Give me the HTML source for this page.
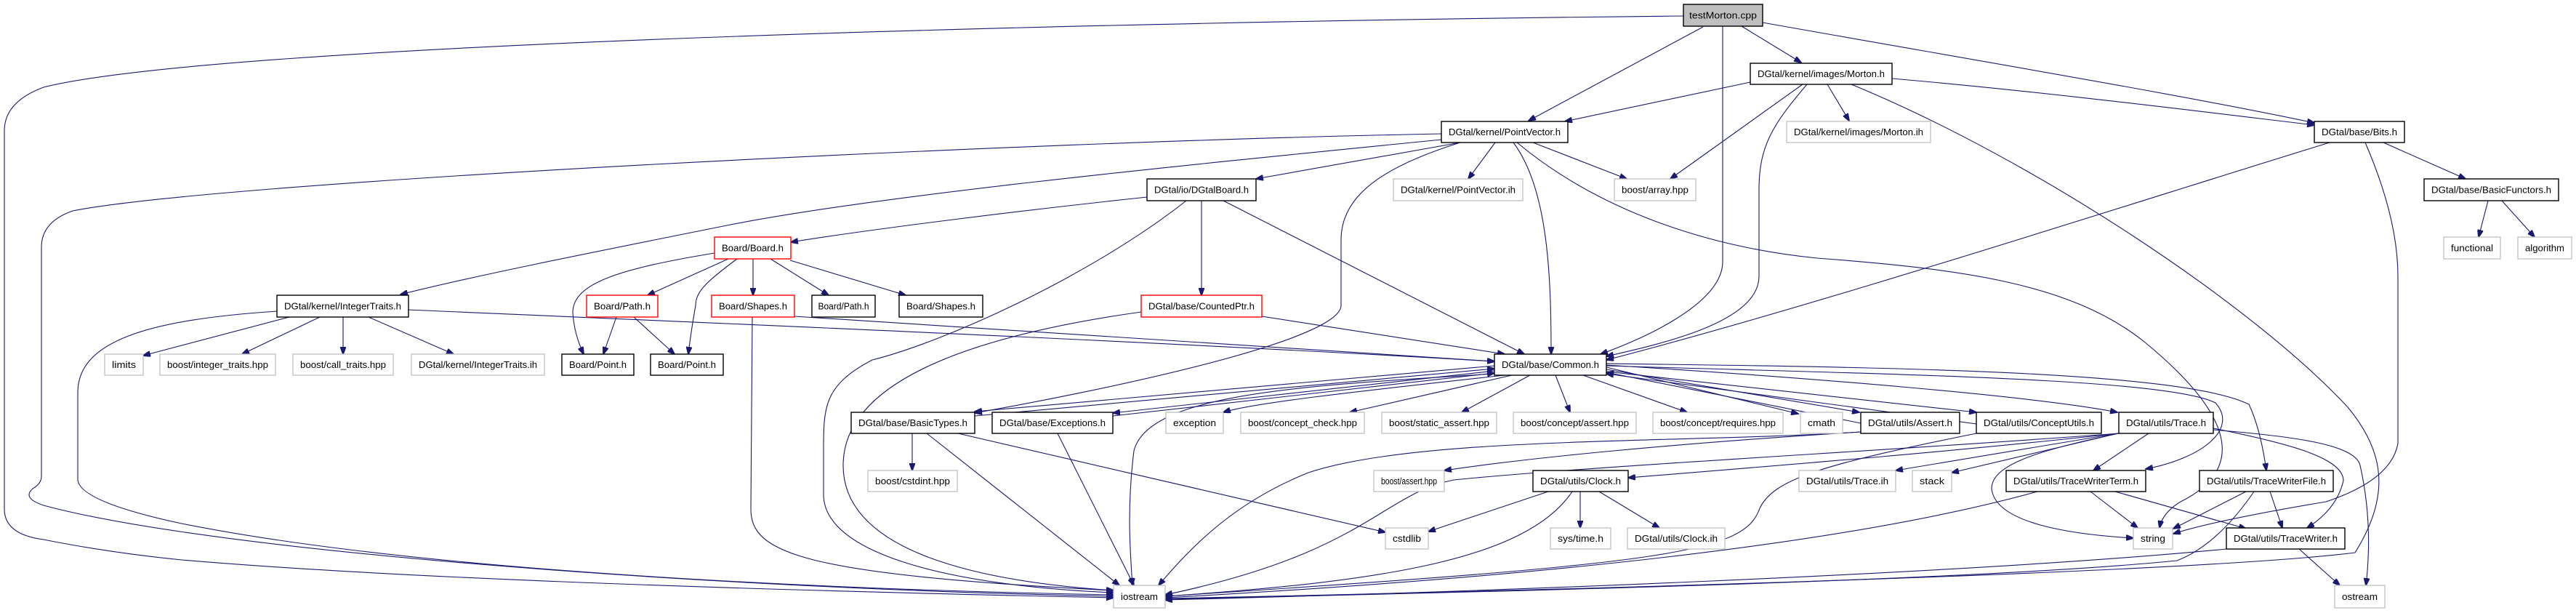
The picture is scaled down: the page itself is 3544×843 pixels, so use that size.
<!DOCTYPE html>
<html><head><meta charset="utf-8"><style>
html,body{margin:0;padding:0;background:#fff;}
svg{display:block}
text{font-family:"Liberation Sans",sans-serif;font-size:12.5px;fill:#000;text-anchor:middle}
.g{fill:#fff;stroke:#bfbfbf;stroke-width:1.3}
.b{fill:#fff;stroke:#000;stroke-width:1.4}
.r{fill:#fff;stroke:#ff0000;stroke-width:1.4}
path,line{fill:none;stroke:#191970;stroke-width:1.1}
</style></head><body>
<svg width="3544" height="843" viewBox="0 0 3544 843" xmlns="http://www.w3.org/2000/svg">
<defs><marker id="a" markerWidth="11" markerHeight="8" refX="10" refY="4" orient="auto" markerUnits="userSpaceOnUse"><path d="M0,0 L11,4 L0,8 z" style="fill:#191970;stroke:#191970"/></marker></defs>
<g marker-end="url(#a)">
<path d="M2316,22 C1500,30 300,60 60,120 Q6,140 6,180 L6,700 Q6,735 60,742 Q150,760 250,770 C600,800 1200,815 1532,822"/>
<path d="M1983,184 C1400,195 300,250 100,290 Q57,305 57,340 L57,655 Q57,665 45,672 Q30,685 60,695 C300,760 1000,810 1532,820"/>
<path d="M381,428 C200,440 107,470 107,540 L107,660 Q110,690 250,720 C600,790 1200,812 1532,818"/>
<path d="M2343,37 L2103,166"/>
<path d="M2370,36 L2370,360 C2370,420 2250,470 2202,487"/>
<path d="M2396,36 L2478,86"/>
<path d="M2425,31 C2700,80 3000,130 3184,169"/>
<path d="M2408,113 L2153,167"/>
<path d="M2514,116 L2544,166"/>
<path d="M2480,116 L2298,246"/>
<path d="M2486,116 C2440,170 2420,200 2420,260 L2420,380 C2420,440 2300,470 2210,490"/>
<path d="M2547,116 C2800,220 3100,420 3230,560 C3280,620 3290,680 3240,760 C3000,790 2000,815 1603,823"/>
<path d="M2603,108 C2800,125 3000,150 3184,172"/>
<path d="M1983,192 C1600,230 1200,270 1000,310 C800,350 650,380 551,405"/>
<path d="M2009,196 L1728,246"/>
<path d="M2009,196 C1900,230 1845,270 1845,330 L1845,420 C1845,470 1500,540 1341,568"/>
<path d="M2057,196 L2020,246"/>
<path d="M2109,196 L2238,246"/>
<path d="M2082,196 C2130,260 2134,380 2134,487"/>
<path d="M2087,196 C2200,290 2350,340 2500,355 C2700,370 2850,390 2950,470 C3060,560 3100,640 3000,690 Q2975,705 2971,726"/>
<path d="M1578,271 C1400,290 1200,315 1088,333"/>
<path d="M1632,276 C1500,380 1300,470 1200,495 C1133,530 1133,560 1133,620 L1133,680 C1133,760 1300,805 1532,815"/>
<path d="M1653,276 L1653,406"/>
<path d="M1683,276 L2097,487"/>
<path d="M983,348 C850,370 788,390 788,430 Q790,460 803,487"/>
<path d="M1002,356 L891,406"/>
<path d="M1014,356 C975,385 957,400 957,420 Q950,460 947,487"/>
<path d="M1036,356 L1036,406"/>
<path d="M1060,356 L1140,406"/>
<path d="M1087,358 L1246,406"/>
<path d="M848,436 L830,487"/>
<path d="M872,436 L928,487"/>
<path d="M1035,436 L1033,700 C1033,760 1100,790 1532,812"/>
<path d="M1093,435 C1500,460 1800,480 2056,497"/>
<path d="M398,436 L197,489"/>
<path d="M440,436 L333,487"/>
<path d="M472,436 L472,487"/>
<path d="M507,436 L624,487"/>
<path d="M562,426 C1000,445 1600,470 2056,497"/>
<path d="M1570,429 C1350,460 1160,520 1160,640 C1160,760 1350,800 1532,812"/>
<path d="M1736,435 L2070,487"/>
<path d="M2056,503 L1341,566"/>
<path d="M1341,572 L2056,507"/>
<path d="M2056,510 L1531,568"/>
<path d="M1531,572 L2056,513"/>
<path d="M2070,516 C1850,540 1720,555 1683,567"/>
<path d="M2080,516 L1857,567"/>
<path d="M2105,516 L2011,567"/>
<path d="M2140,516 L2160,567"/>
<path d="M2178,516 L2321,567"/>
<path d="M2210,505 L2474,569"/>
<path d="M2210,508 L2558,567"/>
<path d="M2560,582 L2210,512"/>
<path d="M2210,511 L2719,567"/>
<path d="M2719,583 L2210,514"/>
<path d="M2210,502 C2500,520 2800,545 2913,567"/>
<path d="M2210,503 C2600,515 2980,520 3048,554 C3080,590 3030,630 2952,645"/>
<path d="M2210,500 C2600,505 3000,510 3094,556 Q3110,590 3118,647"/>
<path d="M2056,514 C1800,530 1580,540 1560,620 C1550,700 1555,760 1558,805"/>
<path d="M1255,596 L1255,647"/>
<path d="M1275,596 L1540,805"/>
<path d="M1318,596 L1906,732"/>
<path d="M1455,596 L1560,805"/>
<path d="M2560,594 C2300,610 2100,630 1987,647"/>
<path d="M2560,594 C2300,610 1950,600 1800,650 C1700,690 1640,750 1594,805"/>
<path d="M2719,596 C2500,640 2440,660 2421,699 C2400,760 2300,775 1603,820"/>
<path d="M2914,596 C2700,620 2450,640 2240,657"/>
<path d="M2914,596 L2608,647"/>
<path d="M2914,596 L2685,650"/>
<path d="M2956,596 L2880,647"/>
<path d="M2915,596 C2800,620 2740,640 2740,672 C2745,720 2850,735 2935,740"/>
<path d="M3045,589 C3150,610 3224,630 3224,661 Q3215,700 3174,726"/>
<path d="M3045,591 C3150,600 3240,610 3247,640 Q3265,720 3255,805"/>
<path d="M2915,596 C2600,620 2200,640 2000,660 C1900,680 1880,760 1603,818"/>
<path d="M2130,676 L1965,731"/>
<path d="M2174,676 L2174,726"/>
<path d="M2200,676 L2283,726"/>
<path d="M2163,676 C2100,770 1900,800 1603,820"/>
<path d="M2876,676 L2941,726"/>
<path d="M2910,676 L3090,727"/>
<path d="M2803,676 C2500,760 2000,800 1603,822"/>
<path d="M3090,676 L2990,727"/>
<path d="M3123,676 L3140,726"/>
<path d="M3101,676 Q3050,750 2995,771 C2700,800 2000,815 1603,824"/>
<path d="M3163,755 L3219,805"/>
<path d="M3063,755 C2700,790 2000,815 1603,825"/>
<path d="M3279,196 L3392,246"/>
<path d="M3205,196 C2900,290 2500,420 2210,495"/>
<path d="M3254,196 Q3299,300 3299,380 L3299,610 Q3290,660 3200,690 Q3050,715 2990,734"/>
<path d="M3423,276 L3410,326"/>
<path d="M3442,276 L3487,326"/>
</g>
<!-- nodes -->
<rect x="2316" y="6" width="109" height="30" style="fill:#bfbfbf;stroke:#000;stroke-width:1.4"/><text x="2370.5" y="25.5" textLength="93" lengthAdjust="spacingAndGlyphs">testMorton.cpp</text>
<rect class="b" x="2408" y="87" width="195" height="29"/><text x="2505.5" y="106" textLength="175" lengthAdjust="spacingAndGlyphs">DGtal/kernel/images/Morton.h</text>
<rect class="b" x="1983" y="167" width="174" height="29"/><text x="2070" y="186" textLength="154" lengthAdjust="spacingAndGlyphs">DGtal/kernel/PointVector.h</text>
<rect class="g" x="2458" y="167" width="198" height="29"/><text x="2557" y="186" textLength="178" lengthAdjust="spacingAndGlyphs">DGtal/kernel/images/Morton.ih</text>
<rect class="b" x="3184" y="167" width="124" height="29"/><text x="3246" y="186" textLength="104" lengthAdjust="spacingAndGlyphs">DGtal/base/Bits.h</text>
<rect class="b" x="1578" y="246" width="150" height="30"/><text x="1653" y="265.5" textLength="130" lengthAdjust="spacingAndGlyphs">DGtal/io/DGtalBoard.h</text>
<rect class="g" x="1917" y="246" width="178" height="30"/><text x="2006" y="265.5" textLength="158" lengthAdjust="spacingAndGlyphs">DGtal/kernel/PointVector.ih</text>
<rect class="g" x="2221" y="246" width="112" height="30"/><text x="2277" y="265.5" textLength="92" lengthAdjust="spacingAndGlyphs">boost/array.hpp</text>
<rect class="b" x="3335" y="246" width="185" height="30"/><text x="3427.5" y="265.5" textLength="165" lengthAdjust="spacingAndGlyphs">DGtal/base/BasicFunctors.h</text>
<rect class="r" x="983" y="326" width="105" height="30"/><text x="1035.5" y="345.5" textLength="85" lengthAdjust="spacingAndGlyphs">Board/Board.h</text>
<rect class="g" x="3362" y="326" width="78" height="30"/><text x="3401" y="345.5" textLength="58" lengthAdjust="spacingAndGlyphs">functional</text>
<rect class="g" x="3464" y="326" width="74" height="30"/><text x="3501" y="345.5" textLength="54" lengthAdjust="spacingAndGlyphs">algorithm</text>
<rect class="b" x="381" y="406" width="181" height="30"/><text x="471.5" y="425.5" textLength="161" lengthAdjust="spacingAndGlyphs">DGtal/kernel/IntegerTraits.h</text>
<rect class="r" x="807" y="406" width="98" height="30"/><text x="856" y="425.5" textLength="78" lengthAdjust="spacingAndGlyphs">Board/Path.h</text>
<rect class="r" x="979" y="406" width="114" height="30"/><text x="1036" y="425.5" textLength="94" lengthAdjust="spacingAndGlyphs">Board/Shapes.h</text>
<rect class="b" x="1117" y="406" width="87" height="30"/><text x="1160.5" y="425.5" textLength="70" lengthAdjust="spacingAndGlyphs">Board/Path.h</text>
<rect class="b" x="1237" y="406" width="115" height="30"/><text x="1294.5" y="425.5" textLength="95" lengthAdjust="spacingAndGlyphs">Board/Shapes.h</text>
<rect class="r" x="1570" y="406" width="166" height="30"/><text x="1653" y="425.5" textLength="146" lengthAdjust="spacingAndGlyphs">DGtal/base/CountedPtr.h</text>
<rect class="g" x="144" y="487" width="53" height="29"/><text x="170.5" y="506" textLength="33" lengthAdjust="spacingAndGlyphs">limits</text>
<rect class="g" x="220" y="487" width="159" height="29"/><text x="299.5" y="506" textLength="139" lengthAdjust="spacingAndGlyphs">boost/integer_traits.hpp</text>
<rect class="g" x="403" y="487" width="138" height="29"/><text x="472" y="506" textLength="118" lengthAdjust="spacingAndGlyphs">boost/call_traits.hpp</text>
<rect class="g" x="566" y="487" width="183" height="29"/><text x="657.5" y="506" textLength="163" lengthAdjust="spacingAndGlyphs">DGtal/kernel/IntegerTraits.ih</text>
<rect class="b" x="773" y="487" width="99" height="29"/><text x="822.5" y="506" textLength="79" lengthAdjust="spacingAndGlyphs">Board/Point.h</text>
<rect class="b" x="895" y="487" width="100" height="29"/><text x="945" y="506" textLength="80" lengthAdjust="spacingAndGlyphs">Board/Point.h</text>
<rect class="b" x="2056" y="487" width="154" height="29"/><text x="2133" y="506" textLength="134" lengthAdjust="spacingAndGlyphs">DGtal/base/Common.h</text>
<rect class="b" x="1171" y="567" width="170" height="29"/><text x="1256" y="586" textLength="150" lengthAdjust="spacingAndGlyphs">DGtal/base/BasicTypes.h</text>
<rect class="b" x="1365" y="567" width="166" height="29"/><text x="1448" y="586" textLength="146" lengthAdjust="spacingAndGlyphs">DGtal/base/Exceptions.h</text>
<rect class="g" x="1604" y="567" width="79" height="29"/><text x="1643.5" y="586" textLength="59" lengthAdjust="spacingAndGlyphs">exception</text>
<rect class="g" x="1707" y="567" width="170" height="29"/><text x="1792" y="586" textLength="150" lengthAdjust="spacingAndGlyphs">boost/concept_check.hpp</text>
<rect class="g" x="1901" y="567" width="158" height="29"/><text x="1980" y="586" textLength="138" lengthAdjust="spacingAndGlyphs">boost/static_assert.hpp</text>
<rect class="g" x="2082" y="567" width="169" height="29"/><text x="2166.5" y="586" textLength="149" lengthAdjust="spacingAndGlyphs">boost/concept/assert.hpp</text>
<rect class="g" x="2274" y="567" width="179" height="29"/><text x="2363.5" y="586" textLength="159" lengthAdjust="spacingAndGlyphs">boost/concept/requires.hpp</text>
<rect class="g" x="2477" y="567" width="58" height="29"/><text x="2506" y="586" textLength="38" lengthAdjust="spacingAndGlyphs">cmath</text>
<rect class="b" x="2560" y="567" width="136" height="29"/><text x="2628" y="586" textLength="116" lengthAdjust="spacingAndGlyphs">DGtal/utils/Assert.h</text>
<rect class="b" x="2719" y="567" width="172" height="29"/><text x="2805" y="586" textLength="152" lengthAdjust="spacingAndGlyphs">DGtal/utils/ConceptUtils.h</text>
<rect class="b" x="2915" y="567" width="130" height="29"/><text x="2980" y="586" textLength="110" lengthAdjust="spacingAndGlyphs">DGtal/utils/Trace.h</text>
<rect class="g" x="1194" y="647" width="123" height="29"/><text x="1255.5" y="666" textLength="103" lengthAdjust="spacingAndGlyphs">boost/cstdint.hpp</text>
<rect class="g" x="1890" y="647" width="97" height="29"/><text x="1938.5" y="666" textLength="77" lengthAdjust="spacingAndGlyphs">boost/assert.hpp</text>
<rect class="b" x="2109" y="647" width="131" height="29"/><text x="2174.5" y="666" textLength="111" lengthAdjust="spacingAndGlyphs">DGtal/utils/Clock.h</text>
<rect class="g" x="2475" y="647" width="133" height="29"/><text x="2541.5" y="666" textLength="113" lengthAdjust="spacingAndGlyphs">DGtal/utils/Trace.ih</text>
<rect class="g" x="2631" y="647" width="54" height="29"/><text x="2658" y="666" textLength="34" lengthAdjust="spacingAndGlyphs">stack</text>
<rect class="b" x="2760" y="647" width="192" height="29"/><text x="2856" y="666" textLength="172" lengthAdjust="spacingAndGlyphs">DGtal/utils/TraceWriterTerm.h</text>
<rect class="b" x="3026" y="647" width="184" height="29"/><text x="3118" y="666" textLength="164" lengthAdjust="spacingAndGlyphs">DGtal/utils/TraceWriterFile.h</text>
<rect class="g" x="1906" y="726" width="59" height="29"/><text x="1935.5" y="745" textLength="39" lengthAdjust="spacingAndGlyphs">cstdlib</text>
<rect class="g" x="2133" y="726" width="83" height="29"/><text x="2174.5" y="745" textLength="63" lengthAdjust="spacingAndGlyphs">sys/time.h</text>
<rect class="g" x="2239" y="726" width="134" height="29"/><text x="2306" y="745" textLength="114" lengthAdjust="spacingAndGlyphs">DGtal/utils/Clock.ih</text>
<rect class="g" x="2935" y="726" width="54" height="29"/><text x="2962" y="745" textLength="34" lengthAdjust="spacingAndGlyphs">string</text>
<rect class="b" x="3063" y="726" width="163" height="29"/><text x="3144.5" y="745" textLength="143" lengthAdjust="spacingAndGlyphs">DGtal/utils/TraceWriter.h</text>
<rect class="g" x="1532" y="805" width="71" height="31"/><text x="1567.5" y="825" textLength="51" lengthAdjust="spacingAndGlyphs">iostream</text>
<rect class="g" x="3212" y="805" width="69" height="31"/><text x="3246.5" y="825" textLength="49" lengthAdjust="spacingAndGlyphs">ostream</text>
</svg>
</body></html>
